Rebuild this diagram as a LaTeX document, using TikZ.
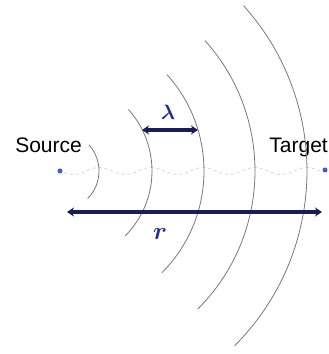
\documentclass[tikz,border=0pt]{standalone}
\usepackage{fontspec}
\setmainfont{Liberation Sans}
\usepackage{amsmath, amssymb, bm}
\usetikzlibrary{arrows.meta, positioning, calc}
\definecolor{wavenavy}{RGB}{24, 30, 84}
\definecolor{dotblue}{RGB}{70, 90, 200}
\definecolor{labnavy}{RGB}{30, 45, 140}
\definecolor{frontgray}{RGB}{120, 120, 120}
\tikzset{
  ptdot/.style={circle, fill=dotblue, minimum size=5pt, inner sep=0pt},
  endlabel/.style={font=\fontsize{21}{24}\selectfont, inner sep=0pt},
  mathlabel/.style={font=\fontsize{22}{24}\selectfont, text=labnavy, inner sep=0pt},
  wavefront/.style={frontgray, line width=0.8pt},
  distarrow/.style={{Stealth[length=7pt,width=9pt]}-{Stealth[length=7pt,width=9pt]}, line width=4pt, draw=wavenavy},
  rayline/.style={gray!35, dashed, line width=0.7pt},
}
\begin{document}
\begin{tikzpicture}[x=1pt, y=1pt]
  \useasboundingbox (0,0) rectangle (329,354);
  \node[ptdot] (src) at (60,183) {};
  \node[ptdot] (tgt) at (325,184) {};
  \node[endlabel, anchor=base east] (srclab) at (82,201) {Source};
  \node[endlabel, anchor=base east] (tgtlab) at (328,201) {Target};
  % wave along the line of sight
  \draw[rayline] plot[domain=64:321, samples=120, smooth] (\x, {183+3.5*cos(6.923*(\x-99))});
  % wave fronts
  \foreach \rad in {39, 92, 144, 195, 247}
    \draw[wavefront] ($(src)+(-45:\rad)$) arc[start angle=-45, end angle=42, radius=\rad];
  \coordinate (la) at (142,224);
  \coordinate (lb) at (198,224);
  \coordinate (ra) at (67,142);
  \coordinate (rb) at (322,142);
  \draw[distarrow] (la)--(lb);
  \draw[distarrow] (ra)--(rb);
  \node[mathlabel] (lam) at (168,242) {$\bm{\lambda}$};
  \node[mathlabel, font=\fontsize{28}{30}\selectfont] (rr) at (160,120) {$\bm{r}$};
\end{tikzpicture}
\end{document}
